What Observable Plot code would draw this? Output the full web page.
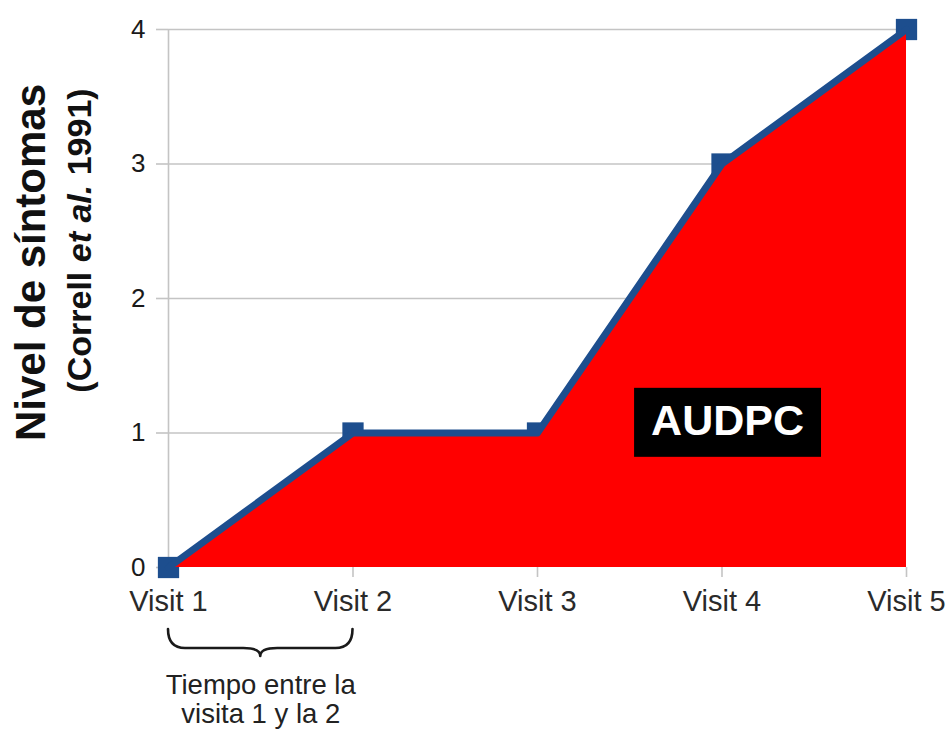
<!DOCTYPE html>
<html>
<head>
<meta charset="utf-8">
<script src="https://cdn.jsdelivr.net/npm/d3@7"></script>
<script src="https://cdn.jsdelivr.net/npm/@observablehq/plot@0.6"></script>
<style>
  html, body { margin: 0; padding: 0; background: #ffffff; }
  #chart { width: 949px; height: 729px; }
</style>
</head>
<body>
<div id="chart"></div>
<script>
// ---- data ----
const visits = [1, 2, 3, 4, 5];
const visitLabels = ["Visit 1", "Visit 2", "Visit 3", "Visit 4", "Visit 5"];
const levels = [0, 1, 1, 3, 4];
const yTicks = [0, 1, 2, 3, 4];
const yTickLabels = ["0", "1", "2", "3", "4"];
const yTitle = "Nivel de síntomas";
const ySubtitleParts = ["(Correll ", "et al.", " 1991)"];
const areaLabel = [{x: 4.03, y: 1.085, text: "AUDPC"}];
const braceSpan = [1, 2];
const braceCaption = "Tiempo entre la\nvisita 1 y la 2";

const data = visits.map((v, i) => ({visit: v, level: levels[i]}));

const blue = "#1d4e8e";
const red = "#ff0000";
const grid = "#c4c4c4";

// custom brace mark, positioned via scales
function braceMark(index, scales, values, dimensions) {
  const x1 = scales.x(braceSpan[0]), x2 = scales.x(braceSpan[1]);
  const y0 = scales.y(0);
  const top = y0 + 62, mid = y0 + 81, tip = y0 + 89, r = 17;
  const xm = (x1 + x2) / 2;
  const d = `M${x1},${top} Q${x1},${mid} ${x1 + r},${mid} L${xm - r},${mid} Q${xm},${mid} ${xm},${tip} ` +
            `Q${xm},${mid} ${xm + r},${mid} L${x2 - r},${mid} Q${x2},${mid} ${x2},${top}`;
  const g = d3.create("svg:g");
  g.append("path").attr("d", d).attr("fill", "none").attr("stroke", "#1a1a1a")
    .attr("stroke-width", 2.6).attr("stroke-linecap", "round").attr("stroke-linejoin", "round");
  return g.node();
}

const chart = Plot.plot({
  width: 949,
  height: 729,
  marginLeft: 168,
  marginRight: 43,
  marginTop: 29,
  marginBottom: 162,
  x: {domain: [1, 5]},
  y: {domain: [0, 4]},
  style: {fontFamily: "'Liberation Sans', Arial, sans-serif", background: "#ffffff", overflow: "visible"},
  marks: [
    Plot.gridY({ticks: [1, 2, 3, 4], stroke: grid, strokeOpacity: 1, strokeWidth: 1.6}),
    Plot.ruleX([1], {y1: 0, y2: 4, stroke: grid, strokeWidth: 1.6}),
    Plot.axisY({ticks: yTicks, tickFormat: d => yTickLabels[yTicks.indexOf(d)], tickSize: 12, tickPadding: 11, fontSize: 26, stroke: grid, strokeWidth: 1.6, fill: "#1a1a1a", label: null}),
    Plot.axisX({ticks: visits, tickFormat: d => visitLabels[visits.indexOf(d)], tickSize: 10, tickPadding: 13, fontSize: 29, stroke: grid, strokeWidth: 1.6, fill: "#2a2a2a", label: null}),
    Plot.dot(data, {x: "visit", y: "level", symbol: "square", r: 12, fill: blue}),
    Plot.areaY(data, {x: "visit", y: "level", fill: red}),
    Plot.lineY(data, {x: "visit", y: "level", stroke: blue, strokeWidth: 7}),
    Plot.text(areaLabel, {x: "x", y: "y", text: "text", fill: "#ffffff", fontSize: 43, fontWeight: "bold"}),
    braceMark,
    Plot.text([braceCaption], {x: (braceSpan[0] + braceSpan[1]) / 2, y: 0, dy: 106, lineAnchor: "top", lineHeight: 1.06, fontSize: 27.5, fill: "#222222", text: d => d}),
    Plot.text([yTitle], {frameAnchor: "left", textAnchor: "middle", rotate: -90, dx: -137, dy: -36, fontSize: 42, fontWeight: "bold", fill: "#111111", text: d => d}),
    Plot.text([ySubtitleParts.join("")], {frameAnchor: "left", textAnchor: "middle", rotate: -90, dx: -88, dy: -58, fontSize: 34, fontWeight: "bold", fill: "#111111", text: d => d})
  ]
});

document.getElementById("chart").appendChild(chart);

// Post-process: black box behind AUDPC label, italic "et al."
d3.select(chart).selectAll("text").each(function() {
  const t = d3.select(this);
  const content = this.textContent;
  if (content === "AUDPC") {
    const bb = this.getBBox();
    const padX = 17, h = 69;
    const cy = bb.y + bb.height / 2 + 2;
    d3.select(this.parentNode).insert("rect", () => this)
      .attr("transform", t.attr("transform"))
      .attr("x", bb.x - padX).attr("width", bb.width + 2 * padX)
      .attr("y", cy - h / 2).attr("height", h)
      .attr("fill", "#000000");
  } else if (content === ySubtitleParts.join("")) {
    t.text(null);
    ySubtitleParts.forEach((p, i) => {
      const ts = t.append("tspan").text(p);
      if (i === 1) ts.attr("font-style", "italic");
    });
    t.attr("xml:space", "preserve").style("white-space", "pre");
  }
});
</script>
</body>
</html>
